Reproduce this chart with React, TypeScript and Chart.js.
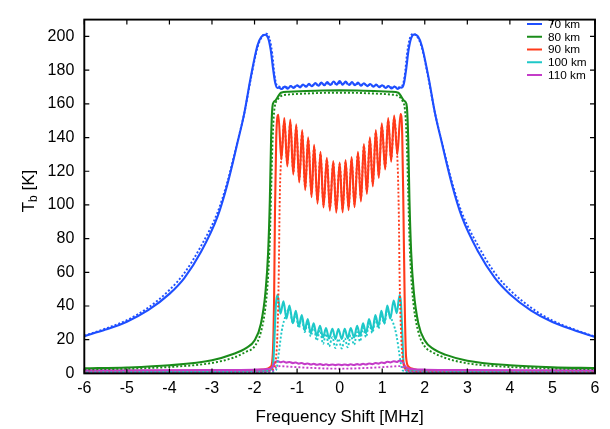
import React, { useEffect, useRef } from "react";
import { Chart, registerables } from "chart.js";

Chart.register(...registerables);

type Pt = [number, number];

// ---- data (frequency shift [MHz], brightness temperature [K]) ----
const seriesLabels = ["70 km", "80 km", "90 km", "100 km", "110 km"];

const tb70: Pt[] = [
  [-6, 22.1], [-5.5, 26], [-5, 30.7], [-4.5, 37.5], [-4, 47.2], [-3.65, 56.6], [-3.26, 72], [-2.87, 93],
  [-2.64, 112], [-2.4, 137], [-2.24, 154.5], [-2.09, 175.6], [-1.93, 194.8], [-1.84, 199.8], [-1.75, 201],
  [-1.68, 199], [-1.62, 192], [-1.56, 180], [-1.51, 172], [-1.46, 169.4], [-1.43, 169.6], [-1.36, 168.8],
  [-1.29, 170.2], [-1.22, 169.0], [-1.15, 170.6], [-1.08, 169.4], [-1.0, 171.0], [-0.93, 169.8], [-0.86, 171.5],
  [-0.79, 170.1], [-0.72, 171.9], [-0.65, 170.4], [-0.57, 172.3], [-0.5, 170.7], [-0.43, 172.7], [-0.36, 171.0],
  [-0.29, 173.0], [-0.22, 171.2], [-0.14, 173.3], [-0.07, 171.4], [0, 173.5], [0.07, 171.4], [0.14, 173.2],
  [0.22, 171.2], [0.29, 172.9], [0.36, 171.0], [0.43, 172.6], [0.5, 170.8], [0.57, 172.2], [0.65, 170.5],
  [0.72, 171.8], [0.79, 170.2], [0.86, 171.4], [0.93, 169.9], [1.0, 171.0], [1.08, 169.5], [1.15, 170.6],
  [1.22, 169.1], [1.29, 170.3], [1.36, 168.9], [1.43, 169.7], [1.46, 169.6], [1.51, 172], [1.56, 180],
  [1.62, 192], [1.68, 199], [1.75, 201.2], [1.84, 200], [1.93, 194.5], [2.09, 175.5], [2.24, 154.5],
  [2.4, 137], [2.64, 112], [2.87, 93], [3.26, 72], [3.65, 56.5], [4, 47], [4.5, 37.3], [5, 30.5],
  [5.5, 25.8], [6, 21.6],
];

const tb70Dotted: Pt[] = [
  [-6, 22.4], [-5.5, 26.6], [-5, 31.6], [-4.5, 39], [-4, 49.5], [-3.65, 59.5], [-3.26, 75.5], [-2.87, 95.5],
  [-2.64, 113.5], [-2.4, 137.5], [-2.24, 154.5], [-2.09, 174.5], [-1.93, 193.5], [-1.82, 200], [-1.72, 201.6],
  [-1.64, 198], [-1.58, 189], [-1.53, 177], [-1.48, 171.2], [-1.43, 170.4], [-1.36, 169.5], [-1.29, 170.2],
  [-1.22, 169.7], [-1.15, 170.5], [-1.08, 170.0], [-1.0, 170.8], [-0.93, 170.3], [-0.86, 171.1], [-0.79, 170.6],
  [-0.72, 171.4], [-0.65, 170.9], [-0.57, 171.7], [-0.5, 171.1], [-0.43, 171.9], [-0.36, 171.3], [-0.29, 172.1],
  [-0.22, 171.5], [-0.14, 172.3], [-0.07, 171.6], [0, 172.4], [0.07, 171.6], [0.14, 172.3], [0.22, 171.5],
  [0.29, 172.1], [0.36, 171.3], [0.43, 171.9], [0.5, 171.1], [0.57, 171.7], [0.65, 170.9], [0.72, 171.4],
  [0.79, 170.6], [0.86, 171.1], [0.93, 170.3], [1.0, 170.8], [1.08, 170.0], [1.15, 170.5], [1.22, 169.7],
  [1.29, 170.2], [1.36, 169.5], [1.43, 170.4], [1.48, 171.2], [1.53, 177], [1.58, 189], [1.64, 198],
  [1.72, 201.6], [1.82, 200], [1.93, 193.5], [2.09, 174.5], [2.24, 154.5], [2.4, 137.5], [2.64, 113.5],
  [2.87, 95.5], [3.26, 75.5], [3.65, 59.5], [4, 49.5], [4.5, 39], [5, 31.4], [5.5, 26.2], [6, 21.8],
];

const tb80: Pt[] = [
  [-6, 3], [-5, 3.5], [-4, 4.8], [-3, 7.8], [-2.5, 11.5], [-2.2, 15], [-2, 19.5], [-1.85, 29.5], [-1.74, 49],
  [-1.68, 72], [-1.64, 103], [-1.61, 140], [-1.58, 158], [-1.55, 161], [-1.5, 162.2], [-1.45, 164.2],
  [-1.38, 166.6], [-1.2, 167.2], [-0.8, 167.6], [-0.4, 167.9], [0, 168], [0.4, 167.9], [0.8, 167.6],
  [1.2, 167.2], [1.38, 166.6], [1.45, 164.2], [1.5, 162.2], [1.55, 161], [1.58, 158], [1.61, 140],
  [1.64, 103], [1.68, 72], [1.74, 49], [1.85, 29.5], [2, 19.5], [2.2, 14.5], [2.5, 11], [3, 7.5], [4, 4.8],
  [5, 3.6], [6, 3.2],
];

const tb80Dotted: Pt[] = [
  [-6, 2.4], [-5, 2.8], [-4, 3.8], [-3, 6.2], [-2.5, 9.3], [-2.2, 12.8], [-2, 16], [-1.85, 24.5], [-1.74, 40],
  [-1.68, 58], [-1.64, 80], [-1.61, 108], [-1.58, 135], [-1.55, 152], [-1.52, 159], [-1.47, 162],
  [-1.38, 164.6], [-1.2, 165.5], [-0.8, 166.1], [-0.4, 166.5], [0, 166.6], [0.4, 166.5], [0.8, 166.1],
  [1.2, 165.5], [1.38, 164.6], [1.47, 162], [1.52, 159], [1.55, 152], [1.58, 135], [1.61, 108], [1.64, 80],
  [1.68, 58], [1.74, 40], [1.85, 24.5], [2, 16], [2.2, 12.3], [2.5, 9], [3, 6], [4, 3.8], [5, 2.9], [6, 2.5],
];

const tb90: Pt[] = [
  [-6, 1.2], [-4, 1.3], [-2.5, 1.5], [-2, 1.8], [-1.75, 2.5], [-1.62, 4], [-1.57, 12], [-1.54, 45],
  [-1.52, 95], [-1.49, 140], [-1.44, 153.5], [-1.37, 127], [-1.30, 151.6], [-1.23, 122.9], [-1.16, 150.7],
  [-1.09, 118], [-1.02, 147.8], [-0.95, 113.3], [-0.88, 144.5], [-0.81, 108.8], [-0.74, 140.1],
  [-0.66, 104.6], [-0.60, 135.7], [-0.52, 100.8], [-0.45, 131.5], [-0.38, 98.5], [-0.30, 128], [-0.23, 96.6],
  [-0.15, 126.1], [-0.08, 95.4], [0, 125.2], [0.07, 95.6], [0.14, 126.6], [0.21, 96.9], [0.28, 128.4],
  [0.35, 98.6], [0.43, 131.5], [0.50, 102], [0.57, 136.2], [0.64, 106.5], [0.71, 140.1], [0.78, 111],
  [0.85, 144.5], [0.92, 116], [0.99, 148.4], [1.07, 121], [1.14, 151.6], [1.21, 125.7], [1.28, 153],
  [1.355, 130], [1.43, 154], [1.47, 142], [1.50, 95], [1.53, 40], [1.56, 10], [1.62, 4], [1.75, 2.5],
  [2, 1.8], [2.5, 1.5], [4, 1.3], [6, 1.2],
];

const tb90Dotted: Pt[] = [
  [-6, 0.5], [-3, 0.6], [-2, 0.8], [-1.7, 1.2], [-1.56, 2.5], [-1.5, 8], [-1.46, 25], [-1.43, 60],
  [-1.41, 100], [-1.39, 120], [-1.36, 130], [-1.30, 149.5], [-1.23, 124.5], [-1.16, 149], [-1.09, 119.5],
  [-1.02, 146.2], [-0.95, 115], [-0.88, 143], [-0.81, 110.5], [-0.74, 138.7], [-0.66, 106.3], [-0.60, 134.4],
  [-0.52, 102.5], [-0.45, 130.3], [-0.38, 100.2], [-0.30, 126.9], [-0.23, 98.3], [-0.15, 125], [-0.08, 97.1],
  [0, 124.2], [0.07, 97.3], [0.14, 125.5], [0.21, 98.6], [0.28, 127.3], [0.35, 100.3], [0.43, 130.4],
  [0.50, 103.7], [0.57, 135], [0.64, 108.2], [0.71, 138.8], [0.78, 112.7], [0.85, 143.1], [0.92, 117.6],
  [0.99, 146.9], [1.07, 122.6], [1.14, 150], [1.21, 127.2], [1.28, 151.3], [1.35, 131], [1.37, 118],
  [1.39, 95], [1.41, 55], [1.45, 20], [1.5, 6], [1.56, 2.5], [1.7, 1.2], [2, 0.8], [3, 0.6], [6, 0.5],
];

const tb100: Pt[] = [
  [-6, 0.8], [-3, 0.9], [-2, 1.1], [-1.7, 1.5], [-1.6, 2.5], [-1.56, 6], [-1.53, 22], [-1.5, 40],
  [-1.46, 46.7], [-1.39, 35.5], [-1.32, 42.8], [-1.25, 32.6], [-1.18, 40.3], [-1.10, 29.8], [-1.03, 37.1],
  [-0.96, 27.9], [-0.89, 34.6], [-0.82, 25.5], [-0.75, 32.3], [-0.68, 23.8], [-0.61, 29.8], [-0.54, 22.3],
  [-0.46, 28.3], [-0.39, 21.3], [-0.32, 26.9], [-0.25, 20.7], [-0.17, 26.5], [-0.10, 20.4], [-0.03, 26.3],
  [0.05, 20.4], [0.12, 26.5], [0.19, 20.7], [0.26, 26.9], [0.34, 21.3], [0.41, 28.3], [0.48, 22.3],
  [0.55, 29.8], [0.62, 23.8], [0.69, 32.3], [0.77, 25.5], [0.84, 34.6], [0.91, 27.9], [0.98, 37.1],
  [1.05, 29.8], [1.12, 40.3], [1.19, 32.6], [1.27, 43.2], [1.34, 35.8], [1.41, 46.5], [1.44, 42],
  [1.47, 25], [1.5, 7], [1.55, 2.5], [1.7, 1.5], [2, 1.1], [3, 0.9], [6, 0.8],
];

const tb100Dotted: Pt[] = [
  [-6, 0.3], [-2, 0.5], [-1.6, 0.8], [-1.52, 1.5], [-1.48, 3], [-1.43, 12], [-1.38, 22], [-1.34, 28],
  [-1.27, 34], [-1.18, 38.5], [-1.10, 30], [-1.03, 35.5], [-0.96, 27], [-0.89, 33], [-0.82, 24.5],
  [-0.75, 30.5], [-0.68, 22], [-0.61, 28], [-0.54, 19.5], [-0.46, 25.5], [-0.39, 17.5], [-0.32, 23.5],
  [-0.25, 16], [-0.17, 21.5], [-0.10, 15], [-0.03, 20.5], [0.05, 14.8], [0.12, 20.8], [0.19, 15.5],
  [0.26, 22.5], [0.34, 17], [0.41, 24.5], [0.48, 19], [0.55, 27], [0.62, 21.5], [0.69, 29.5], [0.77, 24],
  [0.84, 32.5], [0.91, 26.5], [0.98, 35], [1.05, 29.5], [1.12, 37.5], [1.20, 33], [1.26, 29.8], [1.34, 22],
  [1.40, 12], [1.46, 3], [1.52, 1.2], [1.6, 0.8], [2, 0.5], [6, 0.3],
];

const tb110: Pt[] = [
  [-6, 1.8], [-3, 2], [-2, 2.2], [-1.7, 2.6], [-1.6, 3.2], [-1.55, 5], [-1.52, 6.6], [-1.46, 7.3],
  [-1.39, 6.6], [-1.32, 7.1], [-1.25, 6.4], [-1.18, 6.8], [-1.10, 6.1], [-1.03, 6.5], [-0.96, 5.8],
  [-0.89, 6.2], [-0.82, 5.5], [-0.75, 5.9], [-0.68, 5.3], [-0.61, 5.7], [-0.54, 5.1], [-0.46, 5.5],
  [-0.39, 5.0], [-0.32, 5.4], [-0.25, 4.9], [-0.17, 5.3], [-0.10, 4.9], [-0.03, 5.3], [0.05, 4.9],
  [0.12, 5.3], [0.19, 4.9], [0.26, 5.4], [0.34, 5.0], [0.41, 5.5], [0.48, 5.1], [0.55, 5.7], [0.62, 5.3],
  [0.69, 5.9], [0.77, 5.5], [0.84, 6.2], [0.91, 5.8], [0.98, 6.5], [1.05, 6.1], [1.12, 6.9], [1.19, 6.5],
  [1.27, 7.2], [1.34, 6.8], [1.41, 7.6], [1.46, 7.3], [1.5, 6.2], [1.53, 4.5], [1.58, 3.2], [1.7, 2.6],
  [2, 2.2], [3, 2], [6, 1.8],
];

const tb110Dotted: Pt[] = [
  [-6, 0.5], [-2, 0.7], [-1.6, 1.2], [-1.53, 2.5], [-1.48, 3.9], [-1.4, 4.3], [-1.2, 4.0], [-1.0, 3.7],
  [-0.8, 3.4], [-0.6, 3.2], [-0.3, 2.9], [0, 2.8], [0.3, 2.9], [0.6, 3.2], [0.8, 3.4], [1.0, 3.7],
  [1.2, 4.0], [1.4, 4.3], [1.48, 3.9], [1.53, 2.5], [1.6, 1.2], [2, 0.7], [6, 0.5],
];

const solidSeries: Pt[][] = [tb70, tb80, tb90, tb100, tb110];
const dottedSeries: Pt[][] = [tb70Dotted, tb80Dotted, tb90Dotted, tb100Dotted, tb110Dotted];

// ---- styling ----
const palette = ["#1f4fff", "#1a8c1a", "#ff3a1a", "#1ec8c8", "#c43cc8"];
const FONT = "'Liberation Sans', Arial, Helvetica, sans-serif";

const gnuplotDecor = {
  id: "gnuplotDecor",
  afterDraw(chart: any) {
    const { ctx, chartArea: a, scales } = chart;
    const xs = scales.x;
    const ys = scales.y;
    ctx.save();
    ctx.strokeStyle = "#000";
    ctx.lineWidth = 1.2;
    ctx.beginPath();
    xs.ticks.forEach((t: any) => {
      const px = xs.getPixelForValue(t.value);
      ctx.moveTo(px, a.bottom);
      ctx.lineTo(px, a.bottom - 5);
      ctx.moveTo(px, a.top);
      ctx.lineTo(px, a.top + 5);
    });
    ys.ticks.forEach((t: any) => {
      const py = ys.getPixelForValue(t.value);
      ctx.moveTo(a.left, py);
      ctx.lineTo(a.left + 5, py);
      ctx.moveTo(a.right, py);
      ctx.lineTo(a.right - 5, py);
    });
    ctx.stroke();
    ctx.lineWidth = 1.9;
    ctx.strokeRect(a.left, a.top, a.right - a.left, a.bottom - a.top);

    // axis titles
    ctx.fillStyle = "#000";
    ctx.font = `17px ${FONT}`;
    ctx.textAlign = "center";
    ctx.textBaseline = "alphabetic";
    ctx.fillText("Frequency Shift [MHz]", (a.left + a.right) / 2, 421.5);

    ctx.save();
    ctx.translate(33.5, 191);
    ctx.rotate(-Math.PI / 2);
    ctx.textBaseline = "alphabetic";
    ctx.textAlign = "left";
    const big = `17px ${FONT}`;
    const small = `12px ${FONT}`;
    ctx.font = big;
    const wT = ctx.measureText("T").width;
    const wRest = ctx.measureText(" [K]").width;
    ctx.font = small;
    const wb = ctx.measureText("b").width;
    let x0 = -(wT + wb + wRest) / 2;
    ctx.font = big;
    ctx.fillText("T", x0, 0);
    x0 += wT;
    ctx.font = small;
    ctx.fillText("b", x0, 3.5);
    x0 += wb;
    ctx.font = big;
    ctx.fillText(" [K]", x0, 0);
    ctx.restore();

    // key
    ctx.font = `11.8px ${FONT}`;
    ctx.textAlign = "left";
    ctx.textBaseline = "middle";
    const keyItems = chart.data.datasets.filter((d: any) => d.showInKey);
    keyItems.forEach((d: any, i: number) => {
      const y = 24 + i * 12.75;
      ctx.strokeStyle = d.borderColor;
      ctx.lineWidth = 2;
      ctx.beginPath();
      ctx.moveTo(527, y);
      ctx.lineTo(542, y);
      ctx.stroke();
      ctx.fillStyle = "#000";
      ctx.fillText(d.label, 548, y + 0.5);
    });
    ctx.restore();
  },
};

export default function App() {
  const canvasRef = useRef<HTMLCanvasElement | null>(null);

  useEffect(() => {
    if (!canvasRef.current) return;
    const toXY = (pts: Pt[]) => pts.map(([x, y]) => ({ x, y }));
    const datasets: any[] = [];
    solidSeries.forEach((pts, i) => {
      datasets.push({
        label: seriesLabels[i],
        data: toXY(pts),
        borderColor: palette[i],
        borderWidth: 2.1,
        pointRadius: 0,
        fill: false,
        cubicInterpolationMode: "monotone",
        showInKey: true,
      });
    });
    dottedSeries.forEach((pts, i) => {
      datasets.push({
        label: seriesLabels[i] + " (dotted)",
        data: toXY(pts),
        borderColor: palette[i],
        borderWidth: 1.9,
        borderDash: [2, 2],
        pointRadius: 0,
        fill: false,
        cubicInterpolationMode: "monotone",
        showInKey: false,
      });
    });
    datasets.forEach((d, i) => (d.order = 100 - i));

    const chart = new Chart(canvasRef.current, {
      type: "line",
      data: { datasets },
      options: {
        animation: false,
        responsive: false,
        devicePixelRatio: 1,
        layout: { padding: { left: 0, right: 15, top: 9.3, bottom: 0 } },
        plugins: { legend: { display: false }, tooltip: { enabled: false } },
        elements: { line: { borderCapStyle: "butt", borderJoinStyle: "round" } },
        scales: {
          x: {
            type: "linear",
            min: -6,
            max: 6,
            grid: { display: false, drawTicks: false },
            border: { display: false },
            ticks: { stepSize: 1, padding: 6, color: "#000", font: { family: FONT, size: 16 }, maxRotation: 0 },
            afterFit: (s: any) => {
              s.height = 55.6;
            },
          },
          y: {
            type: "linear",
            min: 0,
            max: 210,
            grid: { display: false, drawTicks: false },
            border: { display: false },
            ticks: { stepSize: 20, includeBounds: false, padding: 10, color: "#000", font: { family: FONT, size: 16 } },
            afterFit: (s: any) => {
              s.width = 84.3;
            },
          },
        },
      } as any,
      plugins: [gnuplotDecor],
    });
    return () => chart.destroy();
  }, []);

  return (
    <div style={{ position: "fixed", left: 0, top: 0, width: 610, height: 429, background: "#fff" }}>
      <canvas ref={canvasRef} width={610} height={429} style={{ display: "block" }} />
    </div>
  );
}
